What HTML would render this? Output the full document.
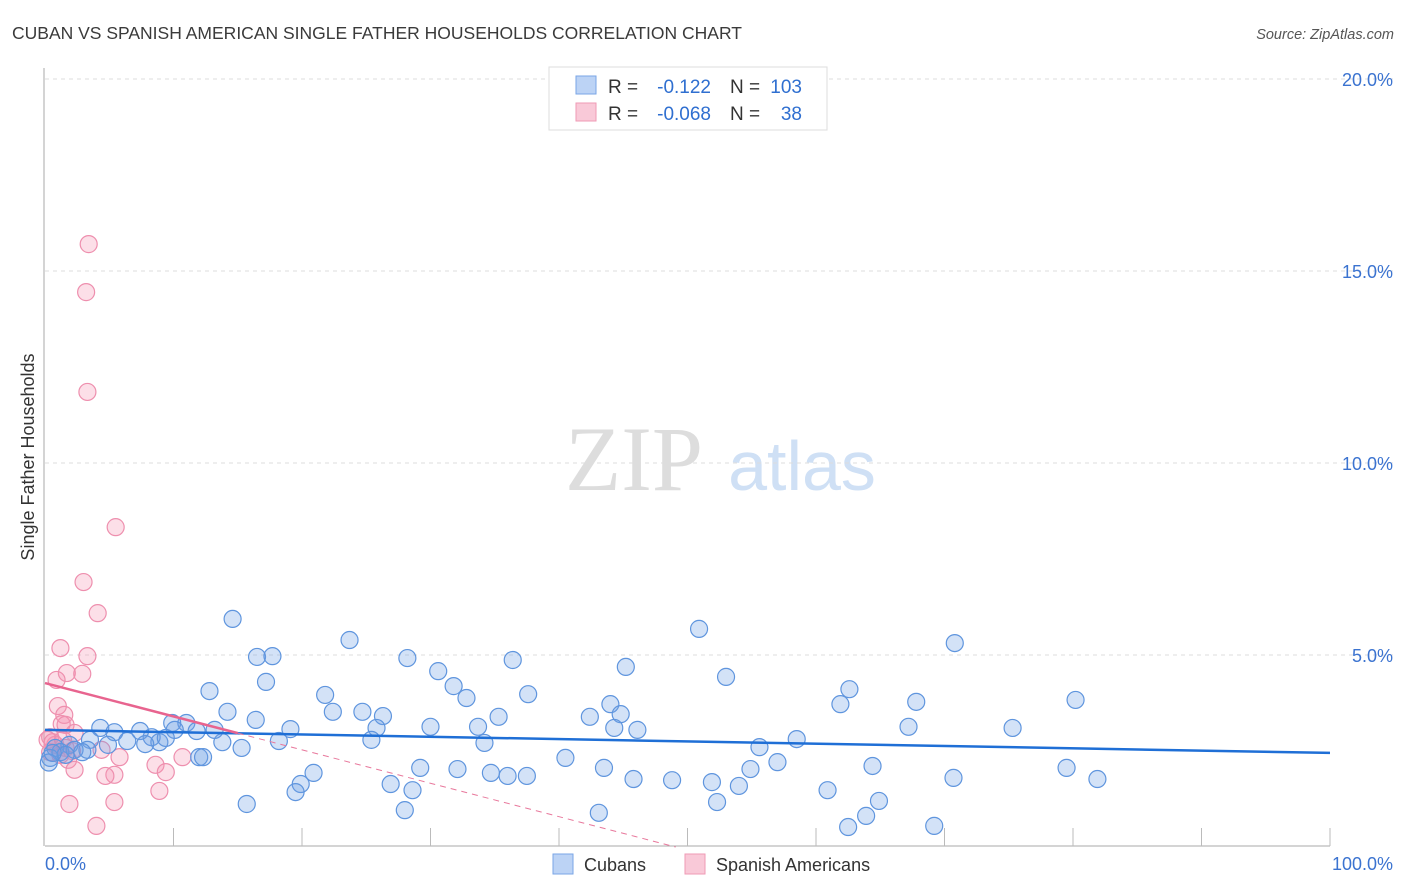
<!DOCTYPE html>
<html><head><meta charset="utf-8"><style>
body{margin:0;background:#fff;font-family:"Liberation Sans",sans-serif;}
svg{display:block}
</style></head><body>
<svg id="chart" width="1406" height="892" xmlns="http://www.w3.org/2000/svg">
<text x="12" y="39" font-size="17.5" fill="#3a3a3a">CUBAN VS SPANISH AMERICAN SINGLE FATHER HOUSEHOLDS CORRELATION CHART</text>
<text x="1394" y="39" font-size="14.5" fill="#555" font-style="italic" text-anchor="end">Source: ZipAtlas.com</text>
<g>
<text x="634" y="490" font-size="92" font-family="Liberation Serif,serif" fill="#ddd" text-anchor="middle">ZIP</text>
<text x="802" y="490" font-size="70" fill="#cfe0f5" text-anchor="middle">atlas</text>
</g>
<g id="grid"></g>
<g id="axes"></g>
<g id="points"></g>
<g id="trends"></g>
<text transform="translate(34,457) rotate(-90)" font-size="18" fill="#333" text-anchor="middle">Single Father Households</text>
<g>
<rect x="549" y="67" width="278" height="63" fill="#fff" stroke="#ddd"/>
<rect x="576" y="76" width="20" height="18" fill="#bcd3f5" stroke="#7aa6e6"/>
<rect x="576" y="103" width="20" height="18" fill="#f9c9d8" stroke="#ef9ab5"/>
<text x="608" y="93" font-size="19" fill="#333">R = </text><text x="711" y="93" font-size="19" fill="#2f6fd0" text-anchor="end">-0.122</text>
<text x="730" y="93" font-size="19" fill="#333">N = </text><text x="802" y="93" font-size="19" fill="#2f6fd0" text-anchor="end">103</text>
<text x="608" y="120" font-size="19" fill="#333">R = </text><text x="711" y="120" font-size="19" fill="#2f6fd0" text-anchor="end">-0.068</text>
<text x="730" y="120" font-size="19" fill="#333">N = </text><text x="802" y="120" font-size="19" fill="#2f6fd0" text-anchor="end">38</text>
</g>
<g>
<rect x="553" y="854" width="20" height="20" fill="#bcd3f5" stroke="#7aa6e6"/>
<text x="584" y="871" font-size="18" fill="#333">Cubans</text>
<rect x="685" y="854" width="20" height="20" fill="#f9c9d8" stroke="#ef9ab5"/>
<text x="716" y="871" font-size="18" fill="#333">Spanish Americans</text>
</g>
</svg>
<script>
const blueX=[14.6,16.5,17.7,23.7,28.2,30.6,31.8,32.8,36.4,37.6,50.9,45.2,53.0,70.8,62.6,61.9,67.8,80.2,12.8,17.2,21.8,14.2,16.4,19.1,22.4,24.7,26.3,25.8,25.4,30.0,33.7,35.3,34.2,42.4,44.0,44.8,44.3,46.1,67.2,75.3,58.5,55.6,18.2,15.3,11.0,9.9,8.3,4.3,5.4,7.4,6.4,8.9,3.5,4.9,7.8,1.9,3.3,0.8,1.2,2.3,2.9,12.0,12.3,13.8,13.2,10.1,11.8,9.4,20.9,19.9,19.5,26.9,28.6,29.2,32.1,34.7,36.0,37.5,40.5,43.5,45.8,48.8,51.9,54.9,57.0,54.0,52.3,60.9,64.4,64.9,63.9,62.5,69.2,70.7,79.5,81.9,15.7,28.0,43.1,0.4,1.6,0.3,0.6];
const blueY=[5.94,4.95,4.97,5.39,4.92,4.58,4.19,3.88,4.87,3.98,5.68,4.69,4.43,5.31,4.11,3.72,3.78,3.83,4.06,4.30,3.96,3.52,3.31,3.07,3.52,3.52,3.41,3.10,2.79,3.13,3.13,3.39,2.71,3.39,3.72,3.46,3.10,3.05,3.13,3.10,2.81,2.60,2.76,2.58,3.23,3.23,2.86,3.10,2.99,3.02,2.76,2.73,2.79,2.66,2.68,2.66,2.53,2.58,2.47,2.53,2.47,2.34,2.34,2.73,3.05,3.05,3.02,2.84,1.93,1.64,1.43,1.64,1.48,2.06,2.03,1.93,1.85,1.85,2.32,2.06,1.77,1.74,1.69,2.03,2.21,1.59,1.17,1.48,2.11,1.20,0.81,0.52,0.55,1.80,2.06,1.77,1.12,0.96,0.89,2.32,2.40,2.20,2.45];
const pinkX=[3.4,3.2,3.3,5.5,3.0,4.1,1.2,3.3,1.7,2.9,0.9,1.0,1.5,1.3,1.6,2.3,0.4,0.8,0.4,1.6,2.1,1.2,1.8,2.3,4.4,5.8,8.6,9.4,10.7,5.4,4.7,8.9,1.9,5.4,4.0,0.2,0.6,1.4];
const pinkY=[15.70,14.45,11.85,8.33,6.90,6.09,5.18,4.97,4.53,4.51,4.35,3.67,3.44,3.20,3.18,2.97,2.86,2.66,2.47,2.58,2.50,2.40,2.27,2.01,2.53,2.34,2.14,1.95,2.34,1.88,1.85,1.46,1.12,1.17,0.55,2.79,2.73,2.79];
const yTicks=[5,10,15,20];
const yTickLabels=["5.0%","10.0%","15.0%","20.0%"];
const xTickVals=[10,20,30,40,50,60,70,80,90,100];
const blueTrend=[3.05,2.45];
const pinkTrend=[4.27,-0.087];
const pinkSolidEnd=15;

const NS="http://www.w3.org/2000/svg";
const X=v=>45+v*12.85, Y=v=>847-v*38.4;
function mk(tag,attrs,parent){const e=document.createElementNS(NS,tag);for(const k in attrs)e.setAttribute(k,attrs[k]);document.getElementById(parent).appendChild(e);return e;}
yTicks.forEach((t,i)=>{
 const g=mk('line',{x1:45,x2:1393,y1:Y(t),y2:Y(t),stroke:'#ddd','stroke-dasharray':'4,4'},'grid');
 
 
 const l=mk('text',{x:1393,y:Y(t)+7,'font-size':18,fill:'#3b73d0','text-anchor':'end'},'grid');
 l.textContent=yTickLabels[i];
 
 
});
const ax=mk('line',{x1:45,x2:1330,y1:846,y2:846,stroke:'#aaa'},'axes');


const ay=mk('line',{x1:44,x2:44,y1:68,y2:846,stroke:'#aaa'},'axes');


xTickVals.forEach(v=>{
 const t=mk('line',{x1:X(v),x2:X(v),y1:828,y2:846,stroke:'#bbb'},'axes');
 
 
});
const x0=mk('text',{x:45,y:870,'font-size':18,fill:'#3b73d0'},'axes');x0.textContent='0.0%';


const x1=mk('text',{x:1393,y:870,'font-size':18,fill:'#3b73d0','text-anchor':'end'},'axes');x1.textContent='100.0%';


pinkX.forEach((v,i)=>{
 const c=mk('circle',{cx:X(v),cy:Y(pinkY[i]),r:8.5,fill:'rgba(244,150,180,0.3)',stroke:'#ee8fae','stroke-width':1.2},'points');
 
 
});
blueX.forEach((v,i)=>{
 const c=mk('circle',{cx:X(v),cy:Y(blueY[i]),r:8.5,fill:'rgba(110,160,230,0.3)',stroke:'#5f95de','stroke-width':1.2},'points');
 
 
});
const bt=mk('line',{x1:X(0),y1:Y(blueTrend[0]),x2:X(100),y2:Y(blueTrend[1]),stroke:'#1f6fd6','stroke-width':2.5},'trends');


const pz=-pinkTrend[0]/pinkTrend[1];
const pd=mk('line',{x1:X(pinkSolidEnd),y1:Y(pinkTrend[0]+pinkTrend[1]*pinkSolidEnd),x2:X(pz),y2:Y(0),stroke:'#e8789c','stroke-width':1,'stroke-dasharray':'6,5'},'trends');


const ps=mk('line',{x1:X(0),y1:Y(pinkTrend[0]),x2:X(pinkSolidEnd),y2:Y(pinkTrend[0]+pinkTrend[1]*pinkSolidEnd),stroke:'#e8648f','stroke-width':2.5},'trends');


</script>
</body></html>
